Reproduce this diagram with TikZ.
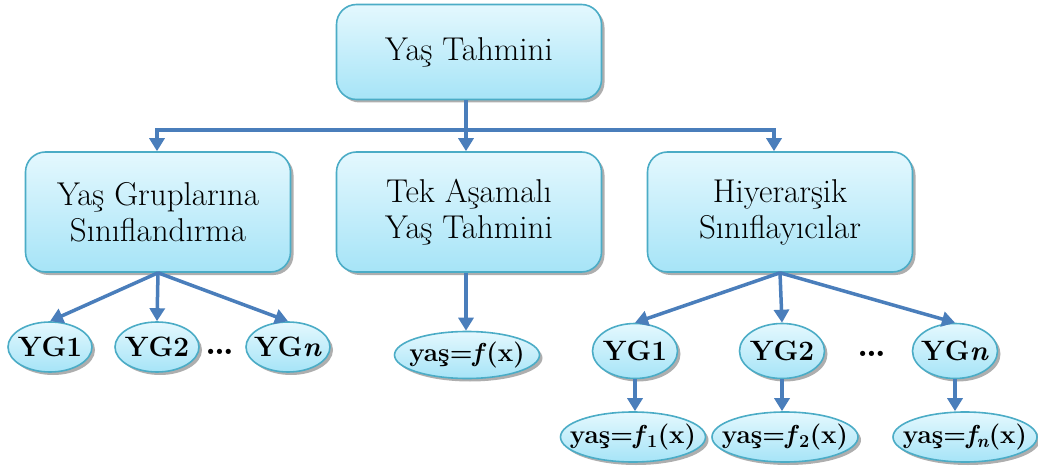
\documentclass[tikz,border=0pt]{standalone}
\usepackage{fontspec}
\usetikzlibrary{shapes.geometric,arrows.meta,shadows}
\definecolor{linkblue}{HTML}{4A7EBB}
\definecolor{rimteal}{HTML}{4BACC6}
\definecolor{skytop}{HTML}{E4F8FE}
\definecolor{skybot}{HTML}{A6E4F7}
\tikzset{
  shade base/.style={top color=skytop, bottom color=skybot, draw=rimteal, line width=1.6pt,
    drop shadow={shadow xshift=3pt, shadow yshift=-3pt, fill=black!45, opacity=0.7}},
  bigbox/.style={shade base, rounded corners=20pt, minimum width=265pt, align=center,
    font=\fontsize{33}{36}\selectfont, inner sep=0pt},
  oval/.style={shade base, ellipse, inner ysep=0pt, inner xsep=-14pt,
    font=\fontsize{26}{28}\selectfont\bfseries},
  groupoval/.style={oval, font=\fontsize{28}{30}\selectfont\bfseries},
  link/.style={draw=linkblue, line width=3.5pt},
  arr/.style={link, -{Triangle[width=15pt,length=13pt]}},
  dots/.style={font=\fontsize{36}{36}\selectfont\bfseries, inner sep=0pt}
}
\begin{document}
\begin{tikzpicture}[x=1pt,y=-1pt]
\useasboundingbox (0,0) rectangle (1038,470);

% top level
\node[bigbox, minimum height=95pt] (root) at (469,52) {Yaş Tahmini};

% second level
\node[bigbox, minimum height=120pt] (grp) at (158,212) {Yaş Gruplarına\\Sınıflandırma};
\node[bigbox, minimum height=120pt] (one) at (469,212) {Tek Aşamalı\\Yaş Tahmini};
\node[bigbox, minimum height=120pt] (hie) at (780,212) {Hiyerarşik\\Sınıflayıcılar};

% left branch: age groups
\node[groupoval, minimum width=84pt, minimum height=50pt] (lg1) at (50,347) {YG1};
\node[groupoval, minimum width=84pt, minimum height=50pt] (lg2) at (157,347) {YG2};
\node[groupoval, minimum width=84pt, minimum height=50pt] (lgn) at (288,347) {YG\textit{n}};
\node[dots] (ldots) at (220,352) {…};

% middle branch
\node[oval, minimum width=145pt, minimum height=47pt] (fx) at (467,355) {yaş=\textit{f}(x)};

% right branch: hierarchical classifiers
\node[groupoval, minimum width=85pt, minimum height=55pt] (rg1) at (635,351) {YG1};
\node[groupoval, minimum width=85pt, minimum height=55pt] (rg2) at (782,351) {YG2};
\node[groupoval, minimum width=85pt, minimum height=55pt] (rgn) at (955,351) {YG\textit{n}};
\node[dots] (rdots) at (872,354) {…};

\node[oval, minimum width=145pt, minimum height=50pt] (f1) at (633,437) {yaş=\textit{f}\textsubscript{1}(x)};
\node[oval, minimum width=146pt, minimum height=50pt] (f2) at (785,437) {yaş=\textit{f}\textsubscript{2}(x)};
\node[oval, minimum width=144pt, minimum height=50pt] (fn) at (965,437) {yaş=\textit{f\textsubscript{n}}(x)};

% bus from the root to the second level
\coordinate (busM) at (466,130);
\coordinate (busL) at (157,130);
\coordinate (busR) at (774,130);
\draw[link] (root.south -| busM) -- (busM);
\draw[link, line cap=butt] ([xshift=-1.75pt]busL) -- ([xshift=1.75pt]busR);
\draw[arr] (busL) -- (busL |- grp.north);
\draw[arr] (busM) -- (busM |- one.north);
\draw[arr] (busR) -- (busR |- hie.north);

% second level to leaves
\draw[arr] (grp.south) -- (lg1.north);
\draw[arr] (grp.south) -- (lg2.north);
\draw[arr] (grp.south) -- (lgn.north);
\draw[arr] (one.south -| busM) -- (busM |- fx.north);
\draw[arr] (hie.south) -- (rg1.north);
\draw[arr] (hie.south) -- (rg2.north);
\draw[arr] (hie.south) -- (rgn.north);
\draw[arr] (rg1.south) -- (rg1.south |- f1.north);
\draw[arr] (rg2.south) -- (rg2.south |- f2.north);
\draw[arr] (rgn.south) -- (rgn.south |- fn.north);
\end{tikzpicture}
\end{document}
